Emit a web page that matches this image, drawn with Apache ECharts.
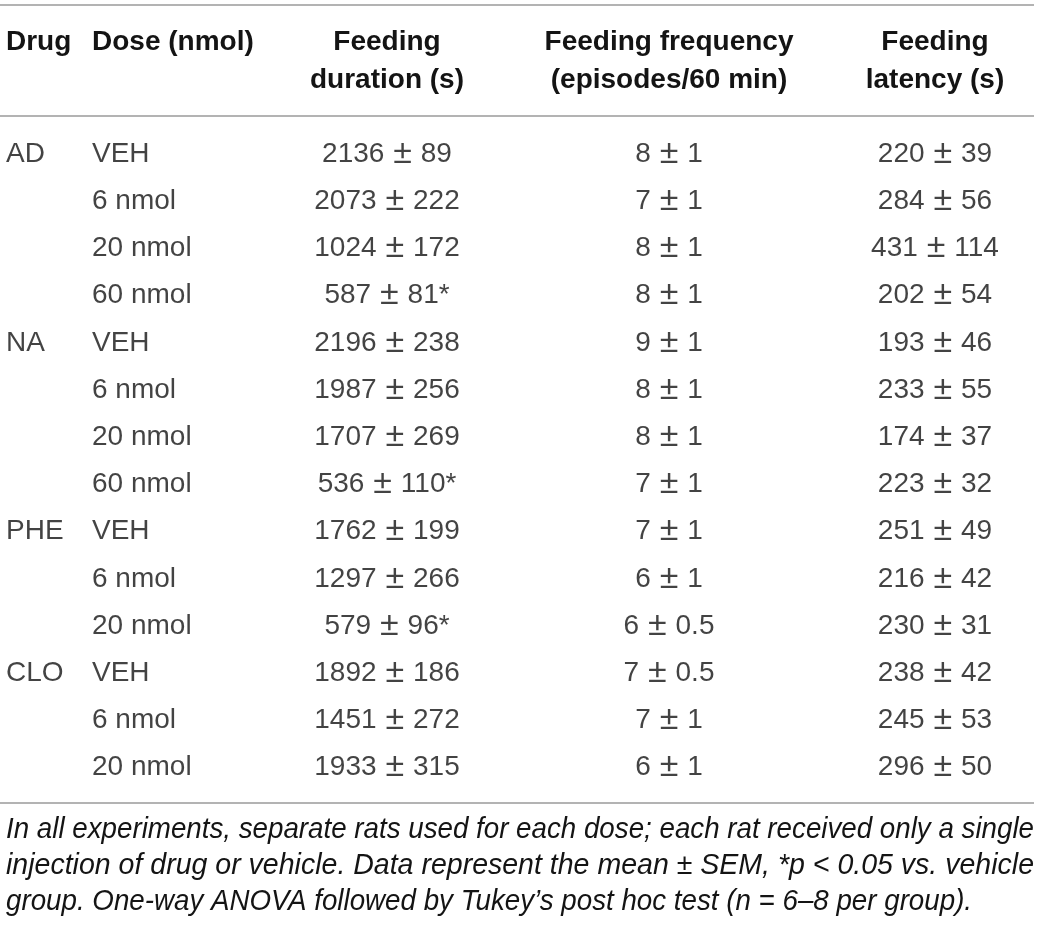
<!DOCTYPE html>
<html>
<head>
<meta charset="utf-8">
<script src="https://cdn.jsdelivr.net/npm/echarts@6/dist/echarts.min.js"></script>
<style>html,body{margin:0;padding:0;background:#fff;}#c{width:1040px;height:926px;}</style>
</head>
<body>
<div id="c"></div>
<script>
// ---- data ----
const drugs = ['AD', '', '', '', 'NA', '', '', '', 'PHE', '', '', 'CLO', '', ''];
const doses = ['VEH', '6 nmol', '20 nmol', '60 nmol', 'VEH', '6 nmol', '20 nmol', '60 nmol', 'VEH', '6 nmol', '20 nmol', 'VEH', '6 nmol', '20 nmol'];
const durationMean = [2136, 2073, 1024, 587, 2196, 1987, 1707, 536, 1762, 1297, 579, 1892, 1451, 1933];
const durationSem  = [89, 222, 172, 81, 238, 256, 269, 110, 199, 266, 96, 186, 272, 315];
const durationSig  = [false, false, false, true, false, false, false, true, false, false, true, false, false, false];
const frequencyMean = [8, 7, 8, 8, 9, 8, 8, 7, 7, 6, 6, 7, 7, 6];
const frequencySem  = ['1', '1', '1', '1', '1', '1', '1', '1', '1', '1', '0.5', '0.5', '1', '1'];
const latencyMean = [220, 284, 431, 202, 193, 233, 174, 223, 251, 216, 230, 238, 245, 296];
const latencySem  = [39, 56, 114, 54, 46, 55, 37, 32, 49, 42, 31, 42, 53, 50];
const headers = [['Drug'], ['Dose (nmol)'], ['Feeding', 'duration (s)'], ['Feeding frequency', '(episodes/60 min)'], ['Feeding', 'latency (s)']];
const footnote = [
  'In all experiments, separate rats used for each dose; each rat received only a single',
  'injection of drug or vehicle. Data represent the mean \u00b1 SEM, *p < 0.05 vs. vehicle',
  'group. One-way ANOVA followed by Tukey\u2019s post hoc test (n = 6\u20138 per group).'
];

// ---- layout ----
const W = 1040, H = 926;
const FONT = '"Liberation Sans", Arial, Helvetica, sans-serif';
const TXT = '#141414';
const LINE = '#9a9a9a';
const colX = [6, 92, 387, 669, 935];
const colAlign = ['left', 'left', 'center', 'center', 'center'];
const rowH = 47.2;
const firstRowY = 154;
const rowKeys = doses.map((d, i) => 'r' + i);

const pm = (a, b, star) => '{d|' + a + '}{s| }{p|\u00b1}{s| }{d|' + b + (star ? '*' : '') + '}';
const columnTexts = [
  drugs.map(t => '{d|' + t + '}'),
  doses.map(t => '{d|' + t + '}'),
  durationMean.map((m, i) => pm(m, durationSem[i], durationSig[i])),
  frequencyMean.map((m, i) => pm(m, frequencySem[i], false)),
  latencyMean.map((m, i) => pm(m, latencySem[i], false))
];

const series = columnTexts.map((texts, c) => ({
  type: 'scatter',
  symbolSize: 0,
  silent: true,
  data: texts.map((t, i) => ({ value: [colX[c], rowKeys[i]], txt: t })),
  label: {
    show: true,
    position: 'inside',
    align: colAlign[c],
    verticalAlign: 'middle',
    fontFamily: FONT,
    fontSize: 28,
    lineHeight: 30,
    color: TXT,
    formatter: p => p.data.txt,
    rich: {
      d: { fontFamily: FONT, fontSize: 28, lineHeight: 30, color: TXT },
      s: { fontFamily: FONT, fontSize: 32, lineHeight: 30, color: TXT },
      p: { fontFamily: FONT, fontSize: 34, lineHeight: 30, color: TXT, padding: [0, 0, 1, 0] }
    }
  }
}));

// header graphics
const graphics = [];
headers.forEach((h, c) => {
  h.forEach((line, k) => {
    graphics.push({
      type: 'text',
      x: colX[c],
      y: 42 + k * 38,
      style: {
        text: line,
        font: 'bold 28px ' + FONT,
        fill: TXT,
        align: colAlign[c],
        verticalAlign: 'middle'
      },
      silent: true
    });
  });
});
// rules
[5, 116, 803].forEach(y => {
  graphics.push({ type: 'line', shape: { x1: 0, y1: y, x2: 1034, y2: y }, style: { stroke: LINE, lineWidth: 1.6 }, silent: true });
});
// footnote
const fnFont = 'italic 29px ' + FONT;
const cv = document.createElement('canvas').getContext('2d');
cv.font = fnFont;
const fnTarget = 1034 - 6;
const scales = footnote.map(t => fnTarget / cv.measureText(t).width);
footnote.forEach((t, k) => {
  const s = k < 2 ? scales[k] : scales[0];
  graphics.push({
    type: 'text',
    x: 6, y: 830 + k * 36,
    scaleX: s,
    style: { text: t, font: fnFont, fill: TXT, align: 'left', verticalAlign: 'middle' },
    silent: true
  });
});

const chart = echarts.init(document.getElementById('c'), null, { renderer: 'canvas', width: W, height: H });
chart.setOption({
  backgroundColor: '#ffffff',
  animation: false,
  grid: { left: 0, right: 0, top: firstRowY - rowH / 2, height: rowH * doses.length },
  xAxis: { type: 'value', min: 0, max: W, show: false },
  yAxis: { type: 'category', data: rowKeys, inverse: true, show: false },
  series: series,
  graphic: graphics
});
</script>
</body>
</html>
